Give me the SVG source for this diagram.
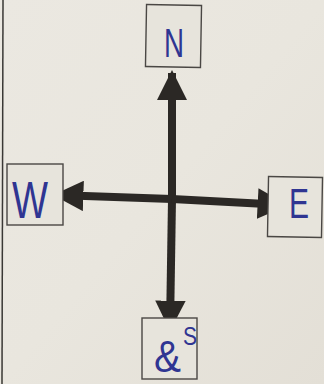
<svg xmlns="http://www.w3.org/2000/svg" width="324" height="384" viewBox="0 0 324 384">
<defs>
<linearGradient id="paper" x1="0" y1="0" x2="1" y2="1">
<stop offset="0" stop-color="#ebe8e1"/>
<stop offset="0.5" stop-color="#e9e6de"/>
<stop offset="1" stop-color="#e3dfd6"/>
</linearGradient>
<marker id="head" viewBox="0 0 10 10" refX="9" refY="5" markerWidth="3.8" markerHeight="3.8" markerUnits="strokeWidth" orient="auto">
<path d="M0,0 L10,5 L0,10 Z" fill="#2b2825"/>
</marker>
<style>
.box{fill:#e7e4dc;stroke:#4a4744;stroke-width:1.4}
.lbl{font-family:"Liberation Sans",Arial,sans-serif;fill:#2f3592;font-weight:normal}
.conn{stroke:#2b2825;stroke-width:8;fill:none;marker-end:url(#head)}
</style>
</defs>
<rect width="324" height="384" fill="url(#paper)"/>
<line x1="3" y1="0" x2="2" y2="384" stroke="#3a3835" stroke-width="1.5"/>
<g id="connectors">
<line class="conn" x1="172" y1="199" x2="172" y2="73"/>
<line class="conn" x1="172" y1="199" x2="170" y2="328"/>
<line class="conn" x1="172" y1="199" x2="56" y2="195"/>
<line class="conn" x1="172" y1="199" x2="285" y2="205"/>
</g>
<g id="north">
<rect class="box" x="146" y="5" width="55" height="62" transform="rotate(1 173 36)"/>
<text class="lbl" x="164" y="57" font-size="40" textLength="20" lengthAdjust="spacingAndGlyphs">N</text>
</g>
<g id="west">
<rect class="box" x="7" y="164" width="56" height="61"/>
<text class="lbl" x="12" y="218" font-size="52" textLength="36" lengthAdjust="spacingAndGlyphs">W</text>
</g>
<g id="east">
<rect class="box" x="268" y="177" width="54" height="60" transform="rotate(1 295 207)"/>
<text class="lbl" x="289" y="218" font-size="42" textLength="20" lengthAdjust="spacingAndGlyphs">E</text>
</g>
<g id="south">
<rect class="box" x="142" y="318" width="55" height="61"/>
<text class="lbl" x="154" y="372" font-size="44" textLength="27" lengthAdjust="spacingAndGlyphs">&amp;</text>
<text class="lbl" x="183" y="345" font-size="26" textLength="14" lengthAdjust="spacingAndGlyphs">S</text>
</g>
</svg>
